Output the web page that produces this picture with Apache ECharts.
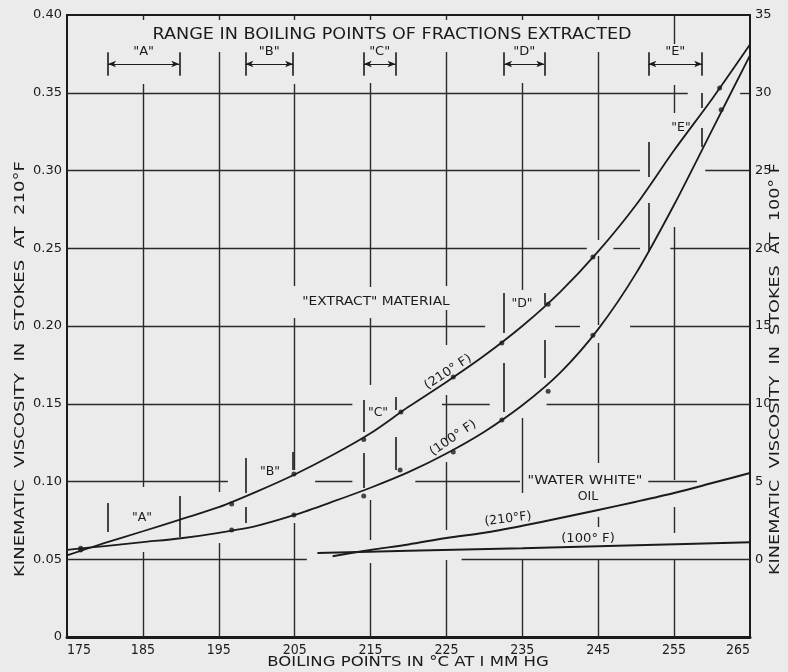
<!DOCTYPE html>
<html><head><meta charset="utf-8">
<script src="https://cdn.jsdelivr.net/npm/echarts@6/dist/echarts.min.js"></script>
<style>html,body{margin:0;padding:0;background:#ebebeb}#c{width:788px;height:672px}</style>
</head><body><div id="c"></div>
<script>
// ---- data ----
const curveTemps = [175,180,185,190,195,200,205,210,215,220,225,230,235,240,245,250,255,260,265];
// "Extract" material, 210°F (left axis, stokes)
const extract210Curve = [0.0525,0.0605,0.068,0.0757,0.0835,0.0935,0.1045,0.117,0.131,0.148,0.164,0.181,0.200,0.222,0.248,0.278,0.313,0.346,0.381];
// "Extract" material, 100°F (right axis, stokes)
const extract100Curve = [0.6,0.85,1.1,1.35,1.7,2.15,2.85,3.7,4.6,5.6,6.8,8.2,9.9,12.0,14.8,18.4,22.8,27.6,32.4];
const sampleTemps210 = [176.8,196.7,204.9,214.1,219.0,225.9,232.3,238.4,244.3,261.0];
const extract210Points = [0.057,0.0855,0.1048,0.127,0.1447,0.1672,0.189,0.214,0.2444,0.353];
const sampleTemps100 = [176.8,196.7,204.9,214.1,218.9,225.9,232.3,238.4,244.3,261.2];
const extract100Points = [0.6,1.88,2.85,4.07,5.74,6.9,8.95,10.8,14.4,28.9];
// "Water white" oil
const waterWhiteTemps210 = [210,215,220,225,230,235,240,245,250,255,260,265];
const waterWhite210 = [0.052,0.056,0.0595,0.0637,0.067,0.0715,0.0765,0.0817,0.087,0.0926,0.099,0.1055];
const waterWhiteTemps100 = [208,220,235,250,265];
const waterWhite100 = [0.4,0.55,0.7,0.9,1.1];
// boiling ranges of extracted fractions
const fractionNames = ['A','B','C','D','E'];
const fractionStart = [180.4,198.5,214.1,232.6,251.6];
const fractionEnd = [189.8,204.8,218.3,237.9,258.7];
// tick labels
const xTickLabels = ['175','185','195','205','215','225','235','245','255','265'];
const leftTickLabels = ['0','0.05','0.10','0.15','0.20','0.25','0.30','0.35','0.40'];
const rightTickLabels = ['0','5','10','15','20','25','30','35'];

// ---- styling / layout ----
const PAPER = '#ebebeb', INK = '#1b1b1b', GRIDC = '#2a2a2a';
const FONT = "'DejaVu Sans', sans-serif";
const NARROW = "'Liberation Sans Narrow','DejaVu Sans Condensed','DejaVu Sans',sans-serif";
const zip = (a, b) => a.map((v, i) => [v, b[i]]);

// broken grid of the drawing (lines are interrupted where curves / lettering cross them)
const vGridSegs = [
  [185, [[0.3968,0.4],[0.0965,0.3556],[0,0.0547]]],
  [195, [[0.3968,0.4],[0.0932,0.3762],[0,0.0604]]],
  [205, [[0.3968,0.4],[0.2257,0.3556],[0.1074,0.2051],[0,0.0733]]],
  [215, [[0.3968,0.4],[0.2251,0.3563],[0.1621,0.2051],[0.0624,0.0881],[0,0.0476]]],
  [225, [[0.3968,0.4],[0.2257,0.3762],[0.1878,0.2103],[0.1267,0.1556],[0.0688,0.1125],[0,0.0495]]],
  [235, [[0.3968,0.4],[0.2232,0.3563],[0.0926,0.1408],[0,0.0495]]],
  [245, [[0.3968,0.4],[0.2553,0.3762],[0.2006,0.245],[0.1119,0.1891],[0.0707,0.0772],[0,0.0495]]],
  [255, [[0.3807,0.4],[0.337,0.355],[0.101,0.2637],[0.0669,0.0836],[0,0.0495]]]
];
const hGridSegs = [
  [0.35, [[175,256.8],[263.7,265]]],
  [0.30, [[175,250.5],[259.1,265]]],
  [0.25, [[175,243.5],[247.0,250.5],[254.5,265]]],
  [0.20, [[175,230.1],[239.3,242.6],[249.2,265]]],
  [0.15, [[175,212.6],[224.4,230.7],[238.2,265]]],
  [0.10, [[175,196.2],[207.7,212.6],[220.9,234.7],[251.6,258.0]]],
  [0.05, [[175,206.6],[227.0,265]]]
];
const gridLines = [];
vGridSegs.forEach(([t, segs]) => segs.forEach(s => gridLines.push([{coord:[t, s[0]]},{coord:[t, s[1]]}])));
hGridSegs.forEach(([v, segs]) => segs.forEach(s => gridLines.push([{coord:[s[0], v]},{coord:[s[1], v]}])));

// vertical bars marking each fraction's range where it crosses the curves (left-axis units)
const barSpans = {
  start: [[[0.0675,0.0862]], [[0.0926,0.1151],[0.0733,0.0836]], [[0.1318,0.1524],[0.0958,0.1183]],
          [[0.1955,0.2212],[0.1447,0.1762]], [[0.2958,0.3183],[0.2476,0.2791]]],
  end:   [[[0.0643,0.0907]], [[0.1074,0.119]], [[0.146,0.1543],[0.1074,0.1286]],
          [[0.2135,0.2212],[0.1666,0.191]], [[0.3402,0.3498],[0.3151,0.3273]]]
};
const barLines = [];
fractionNames.forEach((n, i) => {
  barSpans.start[i].forEach(s => barLines.push([{coord:[fractionStart[i], s[0]]},{coord:[fractionStart[i], s[1]]}]));
  barSpans.end[i].forEach(s => barLines.push([{coord:[fractionEnd[i], s[0]]},{coord:[fractionEnd[i], s[1]]}]));
  barLines.push([{coord:[fractionStart[i], 0.361]},{coord:[fractionStart[i], 0.376]}]);
  barLines.push([{coord:[fractionEnd[i], 0.361]},{coord:[fractionEnd[i], 0.376]}]);
});
const arrowLines = fractionNames.map((n, i) => [
  {name:'"' + n + '"', coord:[fractionStart[i], 0.3685]},
  {coord:[fractionEnd[i], 0.3685]}
]);

const chart = echarts.init(document.getElementById('c'), null, {renderer:'canvas'});
const txt = (text, x, y, size, opt) => {
  opt = opt || {};
  return {
    type:'text', z:1, x:x, y:y, rotation:opt.rotation || 0,
    scaleX:opt.sx || 1, scaleY:1,
    style:Object.assign({text:text, fill:INK, font:size + 'px ' + FONT, align:'center', verticalAlign:'middle'}, opt.style || {})
  };
};

chart.setOption({
  animation:false,
  backgroundColor:PAPER,
  grid:{left:67, right:38, top:15, bottom:35, show:true, borderColor:INK, borderWidth:2, backgroundColor:'transparent'},
  xAxis:{type:'value', min:175, max:265, interval:10,
    axisLine:{lineStyle:{color:INK, width:3}}, axisTick:{show:false},
    axisLabel:{color:INK, fontSize:14, fontFamily:NARROW, margin:6, alignMinLabel:'left', alignMaxLabel:'right',
      formatter:v => xTickLabels[Math.round((v-175)/10)]},
    splitLine:{show:false}},
  yAxis:[
    {type:'value', min:0, max:0.4, interval:0.05, position:'left',
      axisLine:{show:true, lineStyle:{color:INK, width:2}}, axisTick:{show:false},
      axisLabel:{color:INK, fontSize:13, fontFamily:FONT, margin:5,
        formatter:v => leftTickLabels[Math.round(v/0.05)]},
      splitLine:{show:false}},
    {type:'value', min:-5, max:35, interval:5, position:'right',
      axisLine:{show:true, lineStyle:{color:INK, width:2}}, axisTick:{show:false},
      axisLabel:{color:INK, fontSize:13, fontFamily:FONT, margin:5,
        formatter:v => v < 0 ? '' : rightTickLabels[Math.round(v/5)]},
      splitLine:{show:false}}
  ],
  series:[
    {type:'line', name:'Extract 210°F', yAxisIndex:0, data:zip(curveTemps, extract210Curve), smooth:0.3, symbol:'none', lineStyle:{color:INK, width:1.8}, z:3},
    {type:'line', name:'Extract 100°F', yAxisIndex:1, data:zip(curveTemps, extract100Curve), smooth:0.3, symbol:'none', lineStyle:{color:INK, width:1.8}, z:3},
    {type:'scatter', yAxisIndex:0, data:zip(sampleTemps210, extract210Points), symbolSize:5, itemStyle:{color:INK}, z:4},
    {type:'scatter', yAxisIndex:1, data:zip(sampleTemps100, extract100Points), symbolSize:5, itemStyle:{color:INK}, z:4},
    {type:'line', name:'Water white 210°F', yAxisIndex:0, data:zip(waterWhiteTemps210, waterWhite210), smooth:0.3, symbol:'none', lineStyle:{color:INK, width:2}, z:3},
    {type:'line', name:'Water white 100°F', yAxisIndex:1, data:zip(waterWhiteTemps100, waterWhite100), smooth:0.3, symbol:'none', lineStyle:{color:INK, width:2}, z:3},
    {type:'scatter', yAxisIndex:0, data:[], z:1,
      markLine:{silent:true, symbol:'none', animation:false, label:{show:false},
        lineStyle:{color:GRIDC, width:1.4, type:'solid'}, emphasis:{disabled:true}, data:gridLines}},
    {type:'scatter', yAxisIndex:0, data:[], z:2,
      markLine:{silent:true, symbol:'none', animation:false, label:{show:false},
        lineStyle:{color:INK, width:1.6, type:'solid'}, emphasis:{disabled:true}, data:barLines}},
    {type:'scatter', yAxisIndex:0, data:[], z:2,
      markLine:{silent:true, symbol:['arrow','arrow'], symbolSize:[5,8], animation:false,
        lineStyle:{color:INK, width:1.2, type:'solid'}, emphasis:{disabled:true},
        label:{show:true, position:'middle', formatter:p => p.name, color:INK, fontSize:13, fontFamily:FONT,
          backgroundColor:PAPER, padding:[1,1]},
        data:arrowLines}}
  ],
  graphic:[
    txt('RANGE IN BOILING POINTS OF FRACTIONS EXTRACTED', 392, 35, 16, {sx:1.1}),
    txt('KINEMATIC  VISCOSITY  IN  STOKES  AT  210°F', 20, 369, 14, {rotation:Math.PI/2, sx:1.29}),
    txt('KINEMATIC  VISCOSITY  IN  STOKES  AT  100° F', 775, 369, 14, {rotation:Math.PI/2, sx:1.26}),
    txt('BOILING POINTS IN °C AT I MM HG', 408, 662, 14, {sx:1.18}),
    txt('"EXTRACT" MATERIAL', 376, 302, 12.5, {sx:1.1}),
    txt('(210° F)', 448, 372, 12.5, {rotation:0.58, sx:1.05}),
    txt('(100° F)', 453, 438, 12.5, {rotation:0.6, sx:1.05}),
    txt('"A"', 142, 518, 12.5),
    txt('"B"', 270, 472, 12.5),
    txt('"C"', 378, 413, 12.5),
    txt('"D"', 522, 304, 12.5),
    txt('"E"', 681, 128, 12.5),
    txt('"WATER WHITE"', 585, 481, 12.5, {sx:1.15}),
    txt('OIL', 588, 497, 12.5),
    txt('(210°F)', 508, 519, 12.5, {rotation:0.12}),
    txt('(100° F)', 588, 539, 12.5, {sx:1.05})
  ]
});
</script></body></html>
